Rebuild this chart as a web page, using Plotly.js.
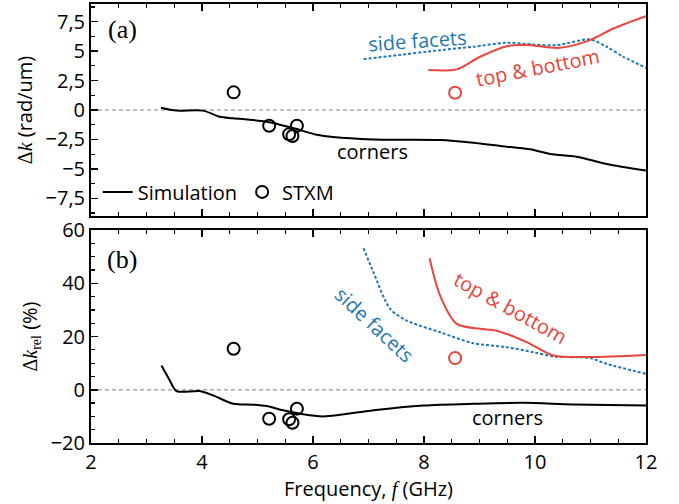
<!DOCTYPE html>
<html>
<head>
<meta charset="utf-8">
<script src="https://cdn.plot.ly/plotly-3.0.1.min.js"></script>
<style>html,body{margin:0;padding:0;background:#fff}#chart{width:679px;height:504px}</style>
</head>
<body>
<div id="chart"></div>
<script>
// ---- Panel (a): Δk (rad/um) ----
const fCornersA = [3.26,3.54,4.02,4.32,4.56,5.17,5.64,6.07,6.36,7.09,8.29,8.89,9.49,9.91,10.27,10.75,11.29,12];
const dkCornersA = [0.2,-0.05,-0.05,-0.57,-0.7,-0.99,-1.53,-2.1,-2.3,-2.5,-2.54,-2.77,-3.11,-3.33,-3.73,-3.96,-4.58,-5.14];
const fSideA = [6.91,7.39,8.29,8.89,9.49,9.97,10.39,10.99,11.29,11.59,12];
const dkSideA = [4.32,4.58,5.08,5.37,5.71,5.56,5.5,5.99,5.37,4.52,3.59];
const fTopA = [8.08,8.59,9.01,9.49,9.85,10.45,10.99,11.41,12];
const dkTopA = [3.39,3.45,4.52,5.42,5.51,5.28,5.93,6.92,7.97];

// ---- Panel (b): Δk_rel (%) ----
const fCornersB = [3.27,3.42,3.54,3.96,4.2,4.56,4.92,5.16,5.46,5.77,6.19,6.49,7.09,7.99,8.89,9.79,10.69,12];
const dkCornersB = [9.1,3.5,-0.5,-0.5,-2.1,-5.25,-5.6,-6.1,-7.7,-9,-10,-9.4,-7.7,-5.9,-5.25,-4.9,-5.5,-5.9];
const fSideB = [6.91,7.09,7.39,7.69,8.29,8.89,9.49,9.97,10.33,10.99,11.29,12];
const dkSideB = [53.2,44.1,30.4,26,21.6,17.5,16,14.1,12.5,11.9,9.75,6];
const fTopB = [8.1,8.29,8.59,9.01,9.31,9.85,10.33,10.99,12];
const dkTopB = [49.4,35.4,24.75,22.9,22.2,17.9,12.9,12.3,13.1];

// ---- STXM measurements ----
const fStxm = [4.57,5.21,5.57,5.63,5.71];
const dkStxmA = [1.5,-1.33,-2.06,-2.2,-1.33];
const dkStxmB = [15.4,-10.9,-11.1,-12.4,-7.1];
const fStxmTop = [8.56];
const dkStxmTopA = [1.47];
const dkStxmTopB = [11.9];

const BLACK = '#000000', BLUE = '#1f78b4', RED = '#e8453c';
const SANS = 'Open Sans, Noto Sans, sans-serif';
const SERIF = 'Liberation Serif, serif';

function line(x, y, xa, ya, color, dash, name, show) {
  return {x: x, y: y, xaxis: xa, yaxis: ya, type: 'scatter', mode: 'lines', name: name,
    showlegend: !!show, line: {color: color, width: 2, dash: dash, shape: 'spline', smoothing: 0.8},
    hoverinfo: 'skip'};
}
function pts(x, y, xa, ya, color, name, show) {
  return {x: x, y: y, xaxis: xa, yaxis: ya, type: 'scatter', mode: 'markers', name: name,
    showlegend: !!show, marker: {symbol: 'circle-open', size: 12, color: color, line: {width: 2, color: color}},
    hoverinfo: 'skip'};
}

const data = [
  line(fCornersA, dkCornersA, 'x', 'y', BLACK, 'solid', 'Simulation', true),
  line(fSideA, dkSideA, 'x', 'y', BLUE, '3px,2px', 'side facets', false),
  line(fTopA, dkTopA, 'x', 'y', RED, 'solid', 'top & bottom', false),
  pts(fStxm, dkStxmA, 'x', 'y', BLACK, 'STXM', true),
  pts(fStxmTop, dkStxmTopA, 'x', 'y', RED, 'STXM top', false),
  line(fCornersB, dkCornersB, 'x2', 'y2', BLACK, 'solid', 'Simulation b', false),
  line(fSideB, dkSideB, 'x2', 'y2', BLUE, '3px,2px', 'side facets b', false),
  line(fTopB, dkTopB, 'x2', 'y2', RED, 'solid', 'top & bottom b', false),
  pts(fStxm, dkStxmB, 'x2', 'y2', BLACK, 'STXM b', false),
  pts(fStxmTop, dkStxmTopB, 'x2', 'y2', RED, 'STXM top b', false)
];

const tickFont = {family: SANS, size: 20, color: '#000'};
function xax(domainAnchor, showLabels) {
  return {range: [2, 12], anchor: domainAnchor, showline: true, linewidth: 2, linecolor: '#000',
    mirror: 'allticks', ticks: 'inside', ticklen: 7, tickwidth: 1.5, tickcolor: '#000',
    dtick: 2, tick0: 2, showgrid: false, zeroline: false, showticklabels: showLabels, tickfont: tickFont,
    minor: {dtick: 0.5, ticks: 'inside', ticklen: 4, tickwidth: 1.2, tickcolor: '#000', showgrid: false}};
}
function rightAx(over) {
  return {overlaying: over, side: 'right', anchor: over === 'y' ? 'x' : 'x2', range: [-9, 9],
    showline: false, ticks: 'inside', ticklen: 7, tickwidth: 1.5, tickcolor: '#000', dtick: 2.5, tick0: 0,
    showticklabels: false, showgrid: false, zeroline: false,
    minor: {dtick: 0.5, ticks: 'inside', ticklen: 4, tickwidth: 1.2, tickcolor: '#000', showgrid: false}};
}

const layout = {
  width: 679, height: 504,
  margin: {l: 91, r: 33, t: 4, b: 61},
  paper_bgcolor: '#fff', plot_bgcolor: '#fff',
  separators: ',.',
  font: {family: SANS, size: 20, color: '#000'},
  showlegend: true,
  legend: {orientation: 'h', x: 0.012, y: 0.572, xanchor: 'left', yanchor: 'middle',
    bgcolor: 'rgba(0,0,0,0)', font: {family: SANS, size: 20, color: '#000'}, itemwidth: 30, tracegroupgap: 0},
  xaxis: Object.assign(xax('y', false), {domain: [0, 1]}),
  xaxis2: Object.assign(xax('y2', true), {domain: [0, 1],
    title: {text: 'Frequency, <span style="font-family:Liberation Serif"><i>f</i></span> (GHz)', font: {family: SANS, size: 20}, standoff: 2}}),
  yaxis: {domain: [0.517, 1], anchor: 'x', range: [-9, 9], showline: true, linewidth: 2, linecolor: '#000', mirror: true,
    ticks: 'inside', ticklen: 7, tickwidth: 1.5, tickcolor: '#000', tickvals: [-7.5, -5, -2.5, 0, 2.5, 5, 7.5],
    showgrid: false, zeroline: false, tickfont: tickFont,
    minor: {dtick: 1.25, ticks: 'inside', ticklen: 4, tickwidth: 1.2, tickcolor: '#000', showgrid: false},
    title: {text: '<span style="font-family:Liberation Serif">Δ<i>k</i></span> (rad/um)', font: {family: SANS, size: 20}, standoff: 8}},
  yaxis2: {domain: [0, 0.485], anchor: 'x2', range: [-20, 60], showline: true, linewidth: 2, linecolor: '#000', mirror: true,
    ticks: 'inside', ticklen: 7, tickwidth: 1.5, tickcolor: '#000', dtick: 20, tick0: 0,
    showgrid: false, zeroline: false, tickfont: tickFont,
    minor: {dtick: 5, ticks: 'inside', ticklen: 4, tickwidth: 1.2, tickcolor: '#000', showgrid: false},
    title: {text: '<span style="font-family:Liberation Serif">Δ<i>k</i><sub>rel</sub></span> (%)', font: {family: SANS, size: 20}, standoff: 8}},
  yaxis3: rightAx('y'),
  yaxis4: rightAx('y2'),
  shapes: [
    {type: 'line', xref: 'x domain', yref: 'y', x0: 0, x1: 1, y0: 0, y1: 0, layer: 'below', line: {color: '#aaaaaa', width: 1.5, dash: '4px,3px'}},
    {type: 'line', xref: 'x2 domain', yref: 'y2', x0: 0, x1: 1, y0: 0, y1: 0, layer: 'below', line: {color: '#aaaaaa', width: 1.5, dash: '4px,3px'}}
  ],
  annotations: [
    {xref: 'x', yref: 'y', x: 2.56, y: 6.8, text: '(a)', showarrow: false, font: {family: SERIF, size: 26, color: '#000'}},
    {xref: 'x2', yref: 'y2', x: 2.56, y: 49.1, text: '(b)', showarrow: false, font: {family: SERIF, size: 26, color: '#000'}},
    {xref: 'x', yref: 'y', x: 7.89, y: 5.94, text: 'side facets', textangle: -4, showarrow: false, font: {family: SANS, size: 20, color: BLUE}},
    {xref: 'x', yref: 'y', x: 10.04, y: 3.57, text: 'top &amp; bottom', textangle: -11, showarrow: false, font: {family: SANS, size: 20, color: RED}},
    {xref: 'x', yref: 'y', x: 7.08, y: -3.56, text: 'corners', showarrow: false, font: {family: SANS, size: 20, color: '#000'}},
    {xref: 'x2', yref: 'y2', x: 7.1, y: 24.4, text: 'side facets', textangle: 43, showarrow: false, font: {family: SANS, size: 20, color: BLUE}},
    {xref: 'x2', yref: 'y2', x: 9.55, y: 31.1, text: 'top &amp; bottom', textangle: 29, showarrow: false, font: {family: SANS, size: 20, color: RED}},
    {xref: 'x2', yref: 'y2', x: 9.5, y: -10.5, text: 'corners', showarrow: false, font: {family: SANS, size: 20, color: '#000'}}
  ]
};

Plotly.newPlot('chart', data, layout, {staticPlot: true, displayModeBar: false});
</script>
</body>
</html>
